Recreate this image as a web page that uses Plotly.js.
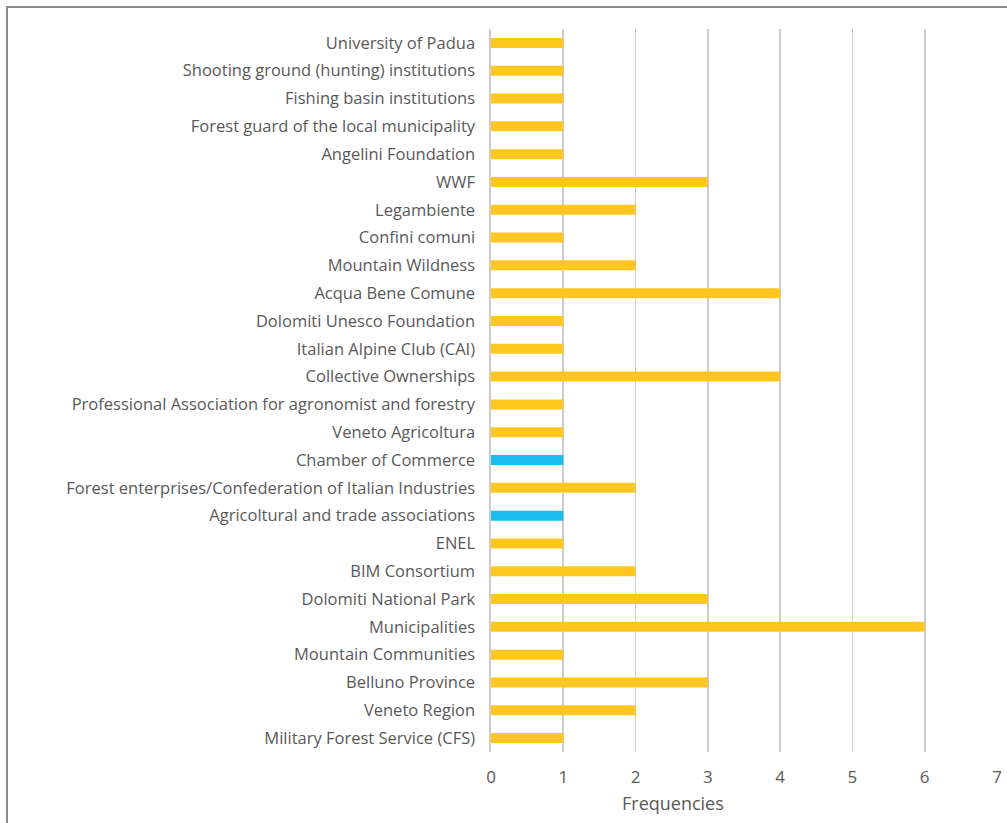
<!DOCTYPE html>
<html>
<head>
<meta charset="utf-8">
<script src="https://cdn.plot.ly/plotly-3.0.1.min.js"></script>
<style>
html,body{margin:0;padding:0;background:#fff;}
#wrap{position:relative;width:1007px;height:823px;overflow:hidden;}
#chart{position:absolute;left:0;top:0;width:1007px;height:823px;}
#frame{position:absolute;left:6px;top:6px;width:1100px;height:900px;border:2px solid #8c8c8c;pointer-events:none;}
</style>
</head>
<body>
<div id="wrap"><div id="chart"></div><div id="frame"></div></div>
<script>
const categories = [
  "University of Padua",
  "Shooting ground (hunting) institutions",
  "Fishing basin institutions",
  "Forest guard of the local municipality",
  "Angelini Foundation",
  "WWF",
  "Legambiente",
  "Confini comuni",
  "Mountain Wildness",
  "Acqua Bene Comune",
  "Dolomiti Unesco Foundation",
  "Italian Alpine Club (CAI)",
  "Collective Ownerships",
  "Professional Association for agronomist and forestry",
  "Veneto Agricoltura",
  "Chamber of Commerce",
  "Forest enterprises/Confederation of Italian Industries",
  "Agricoltural and trade associations",
  "ENEL",
  "BIM Consortium",
  "Dolomiti National Park",
  "Municipalities",
  "Mountain Communities",
  "Belluno Province",
  "Veneto Region",
  "Military Forest Service (CFS)"
];
const frequencies = [1,1,1,1,1,3,2,1,2,4,1,1,4,1,1,1,2,1,1,2,3,6,1,3,2,1];
const groups = ["a","a","a","a","a","a","a","a","a","a","a","a","a","a","a","b","a","b","a","a","a","a","a","a","a","a"];
const xTicks = [0,1,2,3,4,5,6,7];

const colorMap = {a:"#FFC620", b:"#19BCEC"};
const barColors = groups.map(g => colorMap[g]);

const trace = {
  type: "bar",
  orientation: "h",
  y: categories,
  x: frequencies,
  marker: {color: barColors},
  hoverinfo: "x+y"
};

const font = "'Open Sans', 'Noto Sans', sans-serif";
const layout = {
  width: 1007,
  height: 823,
  margin: {l: 491, r: 10, t: 29, b: 71},
  paper_bgcolor: "#ffffff",
  plot_bgcolor: "#ffffff",
  bargap: 0.64,
  showlegend: false,
  font: {family: font, color: "#595959", size: 14},
  xaxis: {
    range: [0, 7],
    tickvals: xTicks,
    ticktext: xTicks.map(String),
    showgrid: true,
    gridcolor: "#cccccc",
    gridwidth: 1.6,
    zeroline: false,
    showline: false,
    ticks: "",
    tickfont: {size: 17, color: "#595959", family: font},
    ticklabelstandoff: 13,
    fixedrange: true
  },
  yaxis: {
    type: "category",
    autorange: "reversed",
    showgrid: false,
    zeroline: false,
    showline: true,
    linecolor: "#cccccc",
    linewidth: 1.6,
    ticks: "",
    ticklabelstandoff: 11,
    tickfont: {size: 16.5, color: "#595959", family: font},
    fixedrange: true
  },
  annotations: [{
    text: "Frequencies",
    xref: "paper", yref: "paper",
    x: 0.359, y: 0, yshift: -51,
    xanchor: "center", yanchor: "middle",
    showarrow: false,
    font: {size: 18, color: "#595959", family: font}
  }]
};

Plotly.newPlot("chart", [trace], layout, {displayModeBar: false, staticPlot: true});
</script>
</body>
</html>
